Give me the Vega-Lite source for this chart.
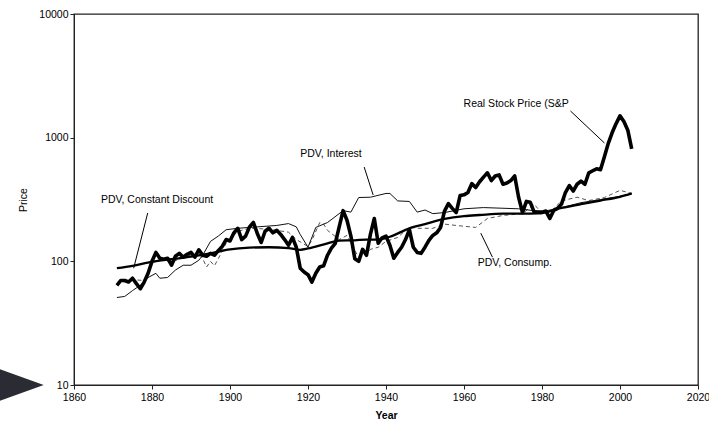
{
  "$schema": "https://vega.github.io/schema/vega-lite/v6.json",
  "width": 624,
  "height": 371,
  "autosize": {"type": "none"},
  "padding": {"left": 74, "top": 14, "right": 11, "bottom": 36},
  "background": "white",
  "config": {
    "view": {"stroke": "#222", "strokeWidth": 1.3},
    "font": "Liberation Sans",
    "axis": {"grid": false, "labelFont": "Liberation Sans", "titleFont": "Liberation Sans", "labelColor": "#000", "titleColor": "#000", "domainColor": "#222", "tickColor": "#222", "labelFontSize": 10.5, "titleFontSize": 10.5}
  },
  "datasets": {
    "series": [
      {"s": "price", "year": 1871, "v": 64}, {"s": "price", "year": 1872, "v": 70}, {"s": "price", "year": 1873, "v": 70}, {"s": "price", "year": 1874, "v": 68}, {"s": "price", "year": 1875, "v": 73}, {"s": "price", "year": 1876, "v": 66}, {"s": "price", "year": 1877, "v": 60}, {"s": "price", "year": 1878, "v": 68}, {"s": "price", "year": 1879, "v": 80}, {"s": "price", "year": 1880, "v": 100},
      {"s": "price", "year": 1881, "v": 118}, {"s": "price", "year": 1882, "v": 106}, {"s": "price", "year": 1883, "v": 104}, {"s": "price", "year": 1884, "v": 106}, {"s": "price", "year": 1885, "v": 93}, {"s": "price", "year": 1886, "v": 110}, {"s": "price", "year": 1887, "v": 116}, {"s": "price", "year": 1888, "v": 108}, {"s": "price", "year": 1889, "v": 114}, {"s": "price", "year": 1890, "v": 118},
      {"s": "price", "year": 1891, "v": 108}, {"s": "price", "year": 1892, "v": 124}, {"s": "price", "year": 1893, "v": 112}, {"s": "price", "year": 1894, "v": 110}, {"s": "price", "year": 1895, "v": 116}, {"s": "price", "year": 1896, "v": 112}, {"s": "price", "year": 1897, "v": 122}, {"s": "price", "year": 1898, "v": 132}, {"s": "price", "year": 1899, "v": 150}, {"s": "price", "year": 1900, "v": 146},
      {"s": "price", "year": 1901, "v": 170}, {"s": "price", "year": 1902, "v": 185}, {"s": "price", "year": 1903, "v": 150}, {"s": "price", "year": 1904, "v": 160}, {"s": "price", "year": 1905, "v": 190}, {"s": "price", "year": 1906, "v": 206}, {"s": "price", "year": 1907, "v": 168}, {"s": "price", "year": 1908, "v": 142}, {"s": "price", "year": 1909, "v": 175}, {"s": "price", "year": 1910, "v": 185},
      {"s": "price", "year": 1911, "v": 170}, {"s": "price", "year": 1912, "v": 178}, {"s": "price", "year": 1913, "v": 165}, {"s": "price", "year": 1914, "v": 150}, {"s": "price", "year": 1915, "v": 135}, {"s": "price", "year": 1916, "v": 156}, {"s": "price", "year": 1917, "v": 130}, {"s": "price", "year": 1918, "v": 88}, {"s": "price", "year": 1919, "v": 82}, {"s": "price", "year": 1920, "v": 78},
      {"s": "price", "year": 1921, "v": 68}, {"s": "price", "year": 1922, "v": 80}, {"s": "price", "year": 1923, "v": 90}, {"s": "price", "year": 1924, "v": 92}, {"s": "price", "year": 1925, "v": 112}, {"s": "price", "year": 1926, "v": 128}, {"s": "price", "year": 1927, "v": 140}, {"s": "price", "year": 1928, "v": 190}, {"s": "price", "year": 1929, "v": 257}, {"s": "price", "year": 1930, "v": 215},
      {"s": "price", "year": 1931, "v": 160}, {"s": "price", "year": 1932, "v": 105}, {"s": "price", "year": 1933, "v": 100}, {"s": "price", "year": 1934, "v": 125}, {"s": "price", "year": 1935, "v": 112}, {"s": "price", "year": 1936, "v": 165}, {"s": "price", "year": 1937, "v": 222}, {"s": "price", "year": 1938, "v": 140}, {"s": "price", "year": 1939, "v": 155}, {"s": "price", "year": 1940, "v": 160},
      {"s": "price", "year": 1941, "v": 135}, {"s": "price", "year": 1942, "v": 106}, {"s": "price", "year": 1943, "v": 118}, {"s": "price", "year": 1944, "v": 130}, {"s": "price", "year": 1945, "v": 150}, {"s": "price", "year": 1946, "v": 180}, {"s": "price", "year": 1947, "v": 130}, {"s": "price", "year": 1948, "v": 118}, {"s": "price", "year": 1949, "v": 116}, {"s": "price", "year": 1950, "v": 130},
      {"s": "price", "year": 1951, "v": 148}, {"s": "price", "year": 1952, "v": 162}, {"s": "price", "year": 1953, "v": 170}, {"s": "price", "year": 1954, "v": 188}, {"s": "price", "year": 1955, "v": 255}, {"s": "price", "year": 1956, "v": 293}, {"s": "price", "year": 1957, "v": 268}, {"s": "price", "year": 1958, "v": 248}, {"s": "price", "year": 1959, "v": 340}, {"s": "price", "year": 1960, "v": 345},
      {"s": "price", "year": 1961, "v": 360}, {"s": "price", "year": 1962, "v": 425}, {"s": "price", "year": 1963, "v": 395}, {"s": "price", "year": 1964, "v": 440}, {"s": "price", "year": 1965, "v": 480}, {"s": "price", "year": 1966, "v": 520}, {"s": "price", "year": 1967, "v": 450}, {"s": "price", "year": 1968, "v": 490}, {"s": "price", "year": 1969, "v": 500}, {"s": "price", "year": 1970, "v": 420},
      {"s": "price", "year": 1971, "v": 430}, {"s": "price", "year": 1972, "v": 450}, {"s": "price", "year": 1973, "v": 490}, {"s": "price", "year": 1974, "v": 330}, {"s": "price", "year": 1975, "v": 248}, {"s": "price", "year": 1976, "v": 305}, {"s": "price", "year": 1977, "v": 300}, {"s": "price", "year": 1978, "v": 250}, {"s": "price", "year": 1979, "v": 250}, {"s": "price", "year": 1980, "v": 250},
      {"s": "price", "year": 1981, "v": 255}, {"s": "price", "year": 1982, "v": 222}, {"s": "price", "year": 1983, "v": 258}, {"s": "price", "year": 1984, "v": 268}, {"s": "price", "year": 1985, "v": 290}, {"s": "price", "year": 1986, "v": 360}, {"s": "price", "year": 1987, "v": 410}, {"s": "price", "year": 1988, "v": 370}, {"s": "price", "year": 1989, "v": 420}, {"s": "price", "year": 1990, "v": 445},
      {"s": "price", "year": 1991, "v": 420}, {"s": "price", "year": 1992, "v": 520}, {"s": "price", "year": 1993, "v": 540}, {"s": "price", "year": 1994, "v": 560}, {"s": "price", "year": 1995, "v": 550}, {"s": "price", "year": 1996, "v": 700}, {"s": "price", "year": 1997, "v": 900}, {"s": "price", "year": 1998, "v": 1100}, {"s": "price", "year": 1999, "v": 1300}, {"s": "price", "year": 2000, "v": 1500},
      {"s": "price", "year": 2001, "v": 1350}, {"s": "price", "year": 2002, "v": 1150}, {"s": "price", "year": 2003, "v": 810},

      {"s": "const", "year": 1871, "v": 88}, {"s": "const", "year": 1875, "v": 92}, {"s": "const", "year": 1880, "v": 99}, {"s": "const", "year": 1885, "v": 104}, {"s": "const", "year": 1890, "v": 109}, {"s": "const", "year": 1895, "v": 116}, {"s": "const", "year": 1900, "v": 125}, {"s": "const", "year": 1905, "v": 129}, {"s": "const", "year": 1910, "v": 130}, {"s": "const", "year": 1915, "v": 128}, {"s": "const", "year": 1918, "v": 124}, {"s": "const", "year": 1920, "v": 127}, {"s": "const", "year": 1925, "v": 140}, {"s": "const", "year": 1928, "v": 147}, {"s": "const", "year": 1932, "v": 148}, {"s": "const", "year": 1935, "v": 150}, {"s": "const", "year": 1938, "v": 150}, {"s": "const", "year": 1941, "v": 158}, {"s": "const", "year": 1946, "v": 185}, {"s": "const", "year": 1950, "v": 200}, {"s": "const", "year": 1955, "v": 220}, {"s": "const", "year": 1960, "v": 232}, {"s": "const", "year": 1964, "v": 237}, {"s": "const", "year": 1970, "v": 243}, {"s": "const", "year": 1975, "v": 243}, {"s": "const", "year": 1979, "v": 244}, {"s": "const", "year": 1985, "v": 270}, {"s": "const", "year": 1990, "v": 290}, {"s": "const", "year": 1995, "v": 310}, {"s": "const", "year": 2000, "v": 332}, {"s": "const", "year": 2003, "v": 354},

      {"s": "interest", "year": 1871, "v": 51}, {"s": "interest", "year": 1873, "v": 52}, {"s": "interest", "year": 1875, "v": 58}, {"s": "interest", "year": 1877, "v": 64}, {"s": "interest", "year": 1879, "v": 74}, {"s": "interest", "year": 1881, "v": 80}, {"s": "interest", "year": 1882, "v": 73}, {"s": "interest", "year": 1884, "v": 74}, {"s": "interest", "year": 1886, "v": 85}, {"s": "interest", "year": 1888, "v": 93}, {"s": "interest", "year": 1890, "v": 93}, {"s": "interest", "year": 1892, "v": 102}, {"s": "interest", "year": 1893, "v": 112}, {"s": "interest", "year": 1895, "v": 145}, {"s": "interest", "year": 1897, "v": 160}, {"s": "interest", "year": 1899, "v": 180}, {"s": "interest", "year": 1902, "v": 185}, {"s": "interest", "year": 1907, "v": 190}, {"s": "interest", "year": 1912, "v": 195}, {"s": "interest", "year": 1915, "v": 202}, {"s": "interest", "year": 1917, "v": 190}, {"s": "interest", "year": 1918, "v": 165}, {"s": "interest", "year": 1920, "v": 130}, {"s": "interest", "year": 1922, "v": 188}, {"s": "interest", "year": 1925, "v": 206}, {"s": "interest", "year": 1929, "v": 257}, {"s": "interest", "year": 1931, "v": 250}, {"s": "interest", "year": 1933, "v": 328}, {"s": "interest", "year": 1936, "v": 330}, {"s": "interest", "year": 1940, "v": 354}, {"s": "interest", "year": 1941, "v": 354}, {"s": "interest", "year": 1943, "v": 308}, {"s": "interest", "year": 1946, "v": 305}, {"s": "interest", "year": 1948, "v": 250}, {"s": "interest", "year": 1950, "v": 260}, {"s": "interest", "year": 1952, "v": 243}, {"s": "interest", "year": 1955, "v": 248}, {"s": "interest", "year": 1960, "v": 266}, {"s": "interest", "year": 1965, "v": 272}, {"s": "interest", "year": 1974, "v": 266}, {"s": "interest", "year": 1980, "v": 252}, {"s": "interest", "year": 1985, "v": 272}, {"s": "interest", "year": 1990, "v": 298}, {"s": "interest", "year": 1995, "v": 316}, {"s": "interest", "year": 2000, "v": 336}, {"s": "interest", "year": 2003, "v": 352},

      {"s": "consump", "year": 1871, "v": 66}, {"s": "consump", "year": 1875, "v": 71}, {"s": "consump", "year": 1878, "v": 70}, {"s": "consump", "year": 1880, "v": 96}, {"s": "consump", "year": 1882, "v": 104}, {"s": "consump", "year": 1885, "v": 98}, {"s": "consump", "year": 1888, "v": 108}, {"s": "consump", "year": 1890, "v": 112}, {"s": "consump", "year": 1892, "v": 116}, {"s": "consump", "year": 1893, "v": 105}, {"s": "consump", "year": 1894, "v": 90}, {"s": "consump", "year": 1895, "v": 100}, {"s": "consump", "year": 1896, "v": 92}, {"s": "consump", "year": 1897, "v": 105}, {"s": "consump", "year": 1899, "v": 140}, {"s": "consump", "year": 1900, "v": 150}, {"s": "consump", "year": 1902, "v": 175}, {"s": "consump", "year": 1905, "v": 185}, {"s": "consump", "year": 1910, "v": 182}, {"s": "consump", "year": 1915, "v": 172}, {"s": "consump", "year": 1917, "v": 150}, {"s": "consump", "year": 1920, "v": 132}, {"s": "consump", "year": 1921, "v": 148}, {"s": "consump", "year": 1923, "v": 206}, {"s": "consump", "year": 1924, "v": 200}, {"s": "consump", "year": 1925, "v": 178}, {"s": "consump", "year": 1928, "v": 150}, {"s": "consump", "year": 1930, "v": 162}, {"s": "consump", "year": 1932, "v": 122}, {"s": "consump", "year": 1933, "v": 108}, {"s": "consump", "year": 1935, "v": 112}, {"s": "consump", "year": 1936, "v": 125}, {"s": "consump", "year": 1938, "v": 130}, {"s": "consump", "year": 1940, "v": 145}, {"s": "consump", "year": 1943, "v": 156}, {"s": "consump", "year": 1946, "v": 190}, {"s": "consump", "year": 1948, "v": 185}, {"s": "consump", "year": 1952, "v": 185}, {"s": "consump", "year": 1955, "v": 200}, {"s": "consump", "year": 1958, "v": 195}, {"s": "consump", "year": 1963, "v": 188}, {"s": "consump", "year": 1966, "v": 222}, {"s": "consump", "year": 1970, "v": 235}, {"s": "consump", "year": 1975, "v": 243}, {"s": "consump", "year": 1978, "v": 290}, {"s": "consump", "year": 1980, "v": 243}, {"s": "consump", "year": 1982, "v": 248}, {"s": "consump", "year": 1985, "v": 308}, {"s": "consump", "year": 1989, "v": 330}, {"s": "consump", "year": 1992, "v": 310}, {"s": "consump", "year": 1996, "v": 328}, {"s": "consump", "year": 2000, "v": 375}, {"s": "consump", "year": 2003, "v": 354}
    ],
    "labels": [
      {"text": "PDV, Constant Discount", "year": 1866.9, "v": 313},
      {"text": "PDV, Interest", "year": 1918.0, "v": 738},
      {"text": "Real Stock Price (S&P", "year": 1959.9, "v": 1871},
      {"text": "PDV, Consump.", "year": 1963.5, "v": 97}
    ],
    "pointers": [
      {"year": 1878.9, "v": 246, "year2": 1875.3, "v2": 88},
      {"year": 1934.4, "v": 579, "year2": 1936.7, "v2": 344},
      {"year": 1987.3, "v": 1643, "year2": 1996.0, "v2": 906},
      {"year": 1964.3, "v": 169, "year2": 1967.3, "v2": 108}
    ],
    "marker": [{"year": 1846.5, "v": 10}]
  },
  "layer": [
    {
      "data": {"name": "series"},
      "transform": [{"filter": "datum.s === 'consump'"}],
      "mark": {"type": "line", "color": "#555", "strokeWidth": 1, "strokeDash": [4, 3]},
      "encoding": {
        "x": {"field": "year", "type": "quantitative", "scale": {"domain": [1860, 2020], "nice": false, "zero": false}, "axis": {"values": [1860, 1880, 1900, 1920, 1940, 1960, 1980, 2000, 2020], "format": "d", "title": "Year", "titleFontWeight": "bold", "tickSize": 4, "labelPadding": 3, "titlePadding": 8, "labelFlush": false}},
        "y": {"field": "v", "type": "quantitative", "scale": {"type": "log", "domain": [10, 10000], "nice": false}, "axis": {"values": [10, 100, 1000, 10000], "format": "d", "title": "Price", "titleFontWeight": "normal", "tickSize": 4, "labelPadding": 2, "titlePadding": 10}}
      }
    },
    {
      "data": {"name": "series"},
      "transform": [{"filter": "datum.s === 'interest'"}],
      "mark": {"type": "line", "color": "#111", "strokeWidth": 1},
      "encoding": {
        "x": {"field": "year", "type": "quantitative"},
        "y": {"field": "v", "type": "quantitative"}
      }
    },
    {
      "data": {"name": "series"},
      "transform": [{"filter": "datum.s === 'const'"}],
      "mark": {"type": "line", "color": "#000", "strokeWidth": 2.3, "interpolate": "monotone"},
      "encoding": {
        "x": {"field": "year", "type": "quantitative"},
        "y": {"field": "v", "type": "quantitative"}
      }
    },
    {
      "data": {"name": "series"},
      "transform": [{"filter": "datum.s === 'price'"}],
      "mark": {"type": "line", "color": "#000", "strokeWidth": 3.6, "strokeJoin": "round"},
      "encoding": {
        "x": {"field": "year", "type": "quantitative"},
        "y": {"field": "v", "type": "quantitative"}
      }
    },
    {
      "data": {"name": "pointers"},
      "mark": {"type": "rule", "color": "#000", "strokeWidth": 1},
      "encoding": {
        "x": {"field": "year", "type": "quantitative"},
        "y": {"field": "v", "type": "quantitative"},
        "x2": {"field": "year2"},
        "y2": {"field": "v2"}
      }
    },
    {
      "data": {"name": "labels"},
      "mark": {"type": "text", "align": "left", "baseline": "middle", "fontSize": 10.5, "font": "Liberation Sans", "color": "#000"},
      "encoding": {
        "x": {"field": "year", "type": "quantitative"},
        "y": {"field": "v", "type": "quantitative"},
        "text": {"field": "text"}
      }
    },
    {
      "data": {"name": "marker"},
      "mark": {"type": "point", "shape": "M-1,-0.72L1,0L-1,0.72Z", "filled": true, "color": "#2b2b33", "opacity": 1, "size": 2000, "clip": false},
      "encoding": {
        "x": {"field": "year", "type": "quantitative"},
        "y": {"field": "v", "type": "quantitative"}
      }
    }
  ]
}
